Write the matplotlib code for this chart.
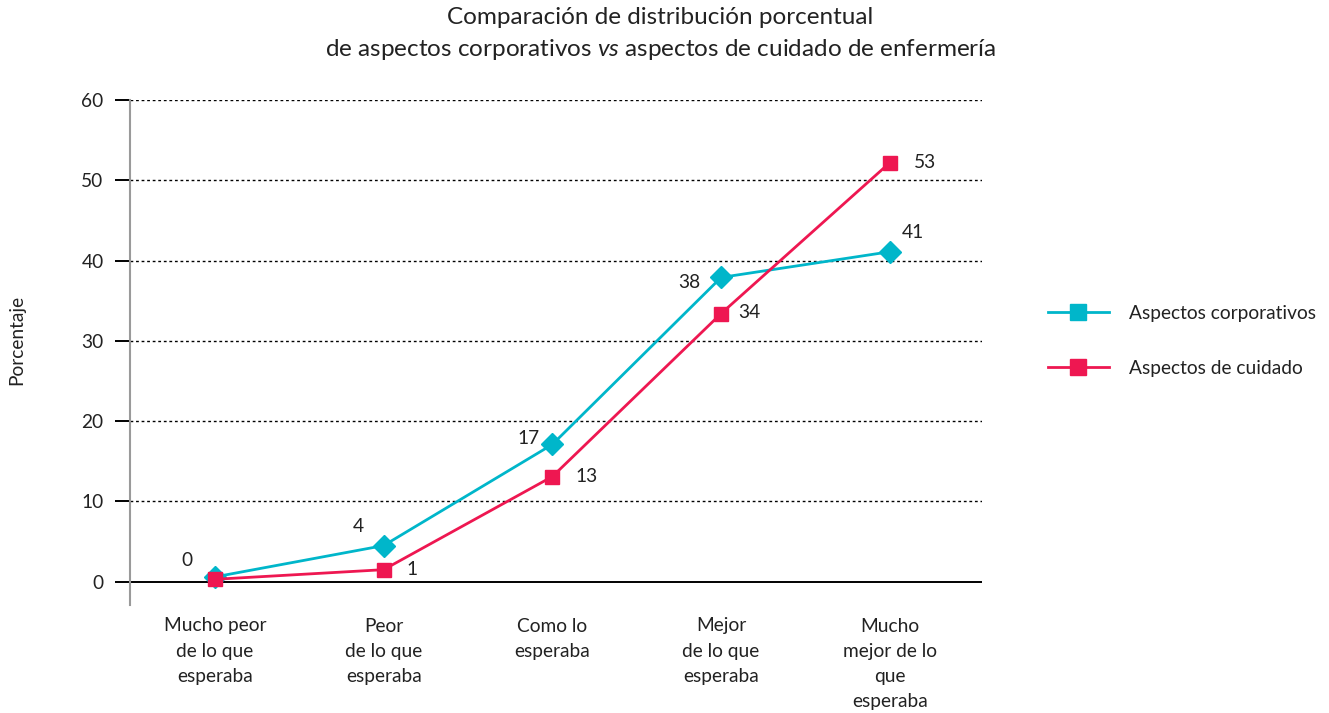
import matplotlib.pyplot as plt
from matplotlib.lines import Line2D

plt.rcParams['font.family'] = ['Lato', 'DejaVu Sans']
plt.rcParams['mathtext.fontset'] = 'custom'
plt.rcParams['mathtext.rm'] = 'Lato'
plt.rcParams['mathtext.it'] = 'Lato:italic'

# data
categorias = ['Mucho peor\nde lo que\nesperaba', 'Peor\nde lo que\nesperaba', 'Como lo\nesperaba',
              'Mejor\nde lo que\nesperaba', 'Mucho\nmejor de lo\nque\nesperaba']
corporativos = [0.6, 4.5, 17.1, 37.9, 41.1]
cuidado = [0.3, 1.5, 13.1, 33.4, 52.2]
etiq_corp = ['0', '4', '17', '38', '41']
etiq_cuid = ['', '1', '13', '34', '53']
yticks = [0, 10, 20, 30, 40, 50, 60]

c_corp = '#00B6CA'
c_cuid = '#EE1751'
txt = '#222222'
fs = 13.8

fig = plt.figure(figsize=(13.29, 7.13), dpi=100)
ax = fig.add_axes([130/1329, 1-605/713, (982-130)/1329, (605-100)/713])

x = list(range(len(categorias)))

ax.set_xlim(-0.503, 4.546)
ax.set_ylim(-2.9, 60)

# grid lines
for v in yticks[1:]:
    ax.axhline(v, color='black', lw=1, ls=(0, (2, 2)), zorder=1)
ax.axhline(0, color='black', lw=1.4, zorder=1)

ax.plot(x, corporativos, color=c_corp, lw=2, marker='D', ms=11, zorder=3)
ax.plot(x, cuidado, color=c_cuid, lw=2, marker='s', ms=10, zorder=4)

# data labels (offsets in pixels)
off_corp = [(-28, 16), (-25, 19), (-24, 6), (-32, -5), (23, 19)]
off_cuid = [(0, 0), (28, 0), (34, 0), (28, 1), (35, 0)]
for i in x:
    ax.annotate(etiq_corp[i], (x[i], corporativos[i]), xytext=off_corp[i], textcoords='offset pixels',
                ha='center', va='center', fontsize=fs, color=txt)
    if etiq_cuid[i]:
        ax.annotate(etiq_cuid[i], (x[i], cuidado[i]), xytext=off_cuid[i], textcoords='offset pixels',
                    ha='center', va='center', fontsize=fs, color=txt)

# axes styling
for s in ['top', 'right', 'bottom']:
    ax.spines[s].set_visible(False)
ax.spines['left'].set_color('#9a9a9a')
ax.spines['left'].set_linewidth(1.5)
ax.set_yticks(yticks)
ax.tick_params(axis='y', length=11, width=1.4, color='black', labelsize=fs, pad=8, labelcolor=txt)
ax.set_xticks(x)
ax.set_xticklabels(categorias, fontsize=fs, color=txt, linespacing=1.58)
ax.tick_params(axis='x', length=0, pad=9)

fig.text(17/1329, 1-340/713, 'Porcentaje', rotation=90, ha='center', va='center', fontsize=fs, color=txt)

fig.text(660/1329, 1-18/713, 'Comparación de distribución porcentual', ha='center', va='center',
         fontsize=17.5, color=txt)
fig.text(660/1329, 1-50/713, r'de aspectos corporativos $\mathit{vs}$ aspectos de cuidado de enfermería',
         ha='center', va='center', fontsize=17.5, color=txt)

handles = [Line2D([], [], color=c_corp, lw=2, marker='s', ms=11),
           Line2D([], [], color=c_cuid, lw=2, marker='s', ms=11)]
fig.legend(handles, ['Aspectos corporativos', 'Aspectos de cuidado'], loc='center left',
           bbox_to_anchor=(1031/1329, 1-341/713), frameon=False, fontsize=fs,
           handlelength=3.15, handletextpad=1.05, labelspacing=2.0, labelcolor=txt)

fig.savefig('out.png', dpi=100)
